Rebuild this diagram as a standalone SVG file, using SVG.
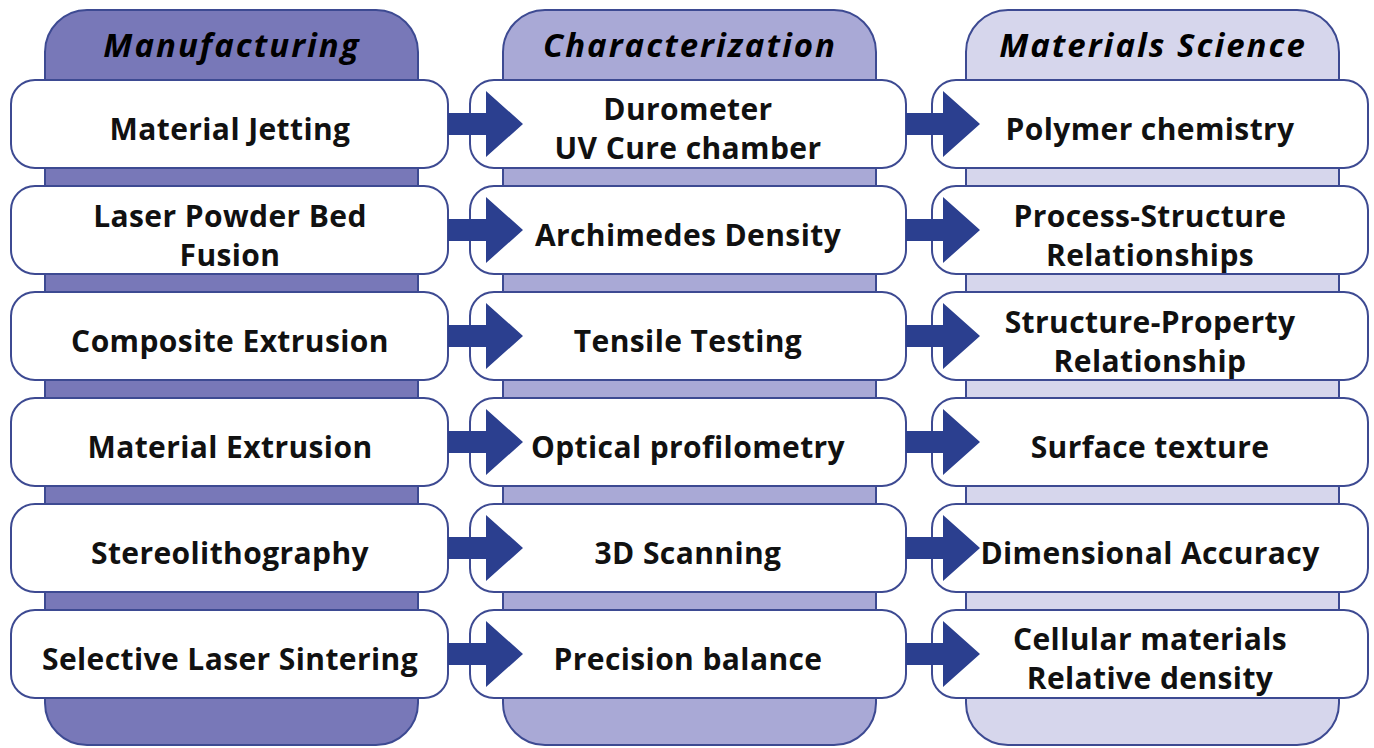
<svg xmlns="http://www.w3.org/2000/svg" width="1374" height="748" viewBox="0 0 1374 748">
<defs>
<style>
.col{stroke:#3d4a92;stroke-width:2}
.c1{fill:#7878b8}.c2{fill:#a9a9d6}.c3{fill:#d6d6ec}
.box{fill:#ffffff;stroke:#3d4a92;stroke-width:2}
.hd{font-family:"Open Sans",Lato,sans-serif;font-weight:bold;font-style:italic;font-size:33px;letter-spacing:2px;fill:#000;text-anchor:middle}
.t{font-family:"Open Sans",Lato,sans-serif;font-weight:bold;font-size:30px;letter-spacing:0.4px;fill:#111;text-anchor:middle}
.arr{fill:#2b3f8f}
</style>
</defs>
<rect width="1374" height="748" fill="#ffffff"/>
<g id="col-manufacturing">
<rect class="col c1" x="45" y="10" width="373" height="735" rx="42"/>
<text class="hd" x="232" y="57">Manufacturing</text>
</g>
<g id="col-characterization">
<rect class="col c2" x="503" y="10" width="373" height="735" rx="42"/>
<text class="hd" x="690" y="57">Characterization</text>
</g>
<g id="col-materials">
<rect class="col c3" x="966" y="10" width="373" height="735" rx="42"/>
<text class="hd" x="1153" y="57">Materials Science</text>
</g>
<g id="m1"><rect class="box" x="11" y="80" width="437" height="88" rx="24"/><text class="t" x="230" y="140">Material Jetting</text></g>
<g id="m2"><rect class="box" x="11" y="186" width="437" height="88" rx="24"/><text class="t" x="230" y="227">Laser Powder Bed</text><text class="t" x="230" y="266">Fusion</text></g>
<g id="m3"><rect class="box" x="11" y="292" width="437" height="88" rx="24"/><text class="t" x="230" y="352">Composite Extrusion</text></g>
<g id="m4"><rect class="box" x="11" y="398" width="437" height="88" rx="24"/><text class="t" x="230" y="458">Material Extrusion</text></g>
<g id="m5"><rect class="box" x="11" y="504" width="437" height="88" rx="24"/><text class="t" x="230" y="564">Stereolithography</text></g>
<g id="m6"><rect class="box" x="11" y="610" width="437" height="88" rx="24"/><text class="t" x="230" y="670">Selective Laser Sintering</text></g>
<g id="c1n"><rect class="box" x="470" y="80" width="436" height="88" rx="24"/><text class="t" x="688" y="120">Durometer</text><text class="t" x="688" y="159">UV Cure chamber</text></g>
<g id="c2n"><rect class="box" x="470" y="186" width="436" height="88" rx="24"/><text class="t" x="688" y="246">Archimedes Density</text></g>
<g id="c3n"><rect class="box" x="470" y="292" width="436" height="88" rx="24"/><text class="t" x="688" y="352">Tensile Testing</text></g>
<g id="c4n"><rect class="box" x="470" y="398" width="436" height="88" rx="24"/><text class="t" x="688" y="458">Optical profilometry</text></g>
<g id="c5n"><rect class="box" x="470" y="504" width="436" height="88" rx="24"/><text class="t" x="688" y="564">3D Scanning</text></g>
<g id="c6n"><rect class="box" x="470" y="610" width="436" height="88" rx="24"/><text class="t" x="688" y="670">Precision balance</text></g>
<g id="s1"><rect class="box" x="932" y="80" width="436" height="88" rx="24"/><text class="t" x="1150" y="140">Polymer chemistry</text></g>
<g id="s2"><rect class="box" x="932" y="186" width="436" height="88" rx="24"/><text class="t" x="1150" y="227">Process-Structure</text><text class="t" x="1150" y="266">Relationships</text></g>
<g id="s3"><rect class="box" x="932" y="292" width="436" height="88" rx="24"/><text class="t" x="1150" y="333">Structure-Property</text><text class="t" x="1150" y="372">Relationship</text></g>
<g id="s4"><rect class="box" x="932" y="398" width="436" height="88" rx="24"/><text class="t" x="1150" y="458">Surface texture</text></g>
<g id="s5"><rect class="box" x="932" y="504" width="436" height="88" rx="24"/><text class="t" x="1150" y="564">Dimensional Accuracy</text></g>
<g id="s6"><rect class="box" x="932" y="610" width="436" height="88" rx="24"/><text class="t" x="1150" y="650">Cellular materials</text><text class="t" x="1150" y="689">Relative density</text></g>
<g id="connectors">
<path id="a1-1" class="arr" d="M448 113H486V91L523 124L486 157V135H448Z"/>
<path id="a1-2" class="arr" d="M448 219H486V197L523 230L486 263V241H448Z"/>
<path id="a1-3" class="arr" d="M448 325H486V303L523 336L486 369V347H448Z"/>
<path id="a1-4" class="arr" d="M448 431H486V409L523 442L486 475V453H448Z"/>
<path id="a1-5" class="arr" d="M448 537H486V515L523 548L486 581V559H448Z"/>
<path id="a1-6" class="arr" d="M448 643H486V621L523 654L486 687V665H448Z"/>
<path id="a2-1" class="arr" d="M906 113H943V91L980 124L943 157V135H906Z"/>
<path id="a2-2" class="arr" d="M906 219H943V197L980 230L943 263V241H906Z"/>
<path id="a2-3" class="arr" d="M906 325H943V303L980 336L943 369V347H906Z"/>
<path id="a2-4" class="arr" d="M906 431H943V409L980 442L943 475V453H906Z"/>
<path id="a2-5" class="arr" d="M906 537H943V515L980 548L943 581V559H906Z"/>
<path id="a2-6" class="arr" d="M906 643H943V621L980 654L943 687V665H906Z"/>
</g>
</svg>
